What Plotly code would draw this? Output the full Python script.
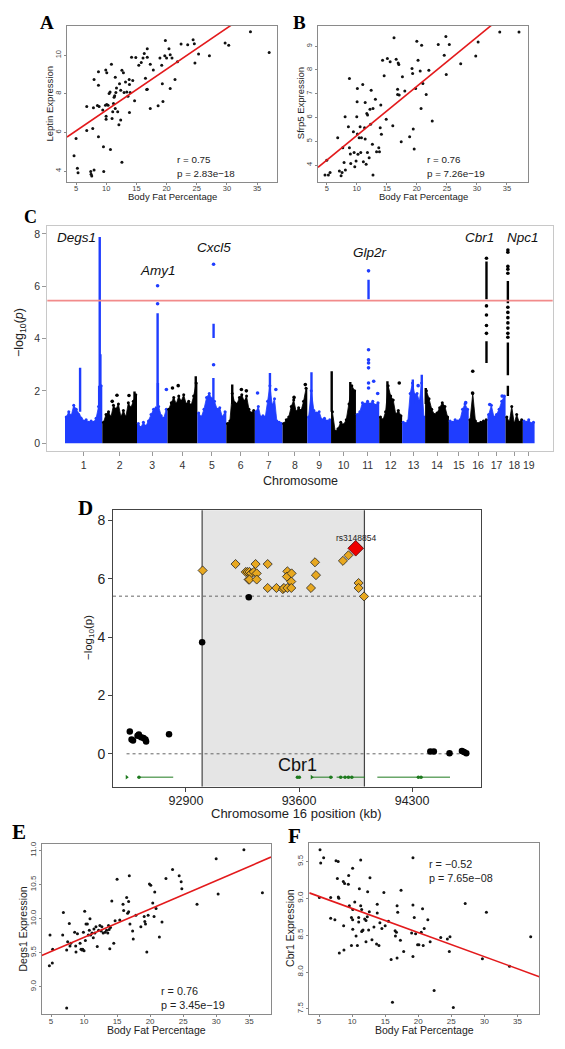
import plotly.graph_objects as go

W, H = 565, 1049
FONT = "Liberation Sans, Arial, sans-serif"
SERIF = "Liberation Serif, Times New Roman, serif"

# ---------------- Panel A / B data ----------------
bodyfat_A = [4.67, 5.0, 5.22, 5.33, 6.77, 6.77, 7.43, 7.49, 7.6, 7.77, 7.88, 7.99, 7.99, 8.54, 8.71, 8.71, 8.71, 8.82,
             9.42, 9.54, 9.59, 9.87, 9.92, 10.09, 9.98, 9.98, 10.09, 10.31, 10.48, 10.64, 10.7, 10.86, 10.97, 11.08,
             11.2, 11.3, 11.4, 11.5, 11.5, 11.6, 11.7, 11.9, 12.1, 12.2, 12.4, 12.4, 12.6, 12.6, 12.85, 12.96, 13.2,
             13.4, 13.6, 13.8, 13.85, 13.85, 13.96, 14.2, 14.4, 14.7, 14.9, 15.4, 15.8, 16.1, 16.3, 16.5, 16.7, 16.8,
             16.8, 16.8, 17.3, 17.3, 17.8, 18.6, 18.9, 19.2, 19.3, 19.4, 19.7, 19.8, 20.0, 20.4, 20.6, 20.6, 20.9,
             21.4, 21.8, 22.4, 23.5, 24.4, 24.6, 24.7, 25.3, 27.1, 29.7, 30.3, 33.9, 37.0]
leptin = [4.79, 5.69, 4.14, 3.91, 6.10, 7.34, 3.97, 3.84, 3.74, 6.21, 7.28, 8.74, 4.05, 7.40, 8.45, 9.14, 5.78, 7.34,
          7.16, 5.26, 3.97, 7.41, 9.24, 9.09, 6.84, 6.69, 7.45, 7.41, 8.02, 8.10, 5.12, 9.53, 6.72, 7.07, 7.5, 7.83,
          7.9, 8.86, 7.24, 8.07, 8.31, 7.07, 6.40, 8.52, 8.19, 6.64, 9.22, 4.45, 9.10, 8.07, 8.62, 8.10, 7.88, 8.74,
          8.48, 7.03, 8.07, 9.90, 8.69, 7.64, 9.88, 9.48, 9.62, 9.86, 10.09, 8.81, 8.22, 10.34, 9.9, 8.24, 9.53, 7.24,
          9.24, 7.38, 9.86, 9.48, 8.53, 7.60, 9.97, 10.76, 9.86, 10.34, 10.03, 8.28, 9.86, 8.74, 9.66, 10.59, 10.55,
          10.81, 10.6, 9.6, 10.07, 9.97, 10.64, 10.52, 11.22, 10.14]
fit_A = (5.02, 0.213)

bodyfat_B = [4.72, 5.0, 5.28, 5.56, 6.83, 7.11, 7.39, 7.56, 7.67, 7.89, 8.06, 8.11, 8.61, 8.78, 8.78, 8.94, 9.0, 9.44,
             9.56, 9.67, 9.89, 10.0, 10.06, 10.1, 10.1, 10.2, 10.4, 10.56, 10.67, 10.78, 11.0, 11.1, 11.3, 11.4, 11.4,
             11.56, 11.67, 11.78, 11.8, 12.06, 12.2, 12.3, 12.4, 12.6, 12.7, 12.7, 13.1, 13.3, 13.67, 13.78, 13.9,
             14.0, 14.1, 14.3, 14.56, 14.9, 15.1, 15.56, 16.0, 16.2, 16.56, 16.8, 16.8, 16.9, 17.0, 17.06, 17.4, 17.6,
             18.0, 18.8, 19.2, 19.3, 19.4, 19.56, 19.8, 20.0, 20.2, 20.56, 20.7, 20.8, 21.0, 21.56, 22.0, 22.56,
             23.56, 24.56, 24.83, 24.9, 25.4, 27.3, 29.8, 30.2, 33.8, 37.0]
sfrp5 = [3.58, 4.2, 3.58, 3.69, 5.15, 3.75, 3.55, 3.69, 4.73, 4.11, 6.03, 3.79, 5.61, 7.64, 4.73, 4.46, 4.06, 5.40,
         4.53, 3.93, 4.17, 6.03, 6.66, 5.30, 7.22, 4.45, 5.15, 5.61, 4.53, 5.15, 7.39, 4.14, 5.57, 6.63, 5.09, 4.03,
         6.17, 4.53, 6.10, 4.31, 6.35, 5.71, 7.14, 4.87, 6.38, 3.58, 6.77, 4.56, 4.73, 4.56, 5.57, 6.52, 5.29, 8.41,
         7.75, 5.93, 8.48, 8.34, 5.65, 9.35, 8.45, 6.97, 7.19, 8.29, 8.23, 6.94, 4.98, 7.71, 7.11, 5.19, 8.06, 7.85,
         5.51, 4.67, 7.22, 9.21, 8.41, 7.95, 6.38, 9.04, 7.43, 6.97, 7.99, 5.85, 9.07, 8.62, 9.41, 7.81, 9.07, 8.26,
         8.59, 9.18, 9.6, 9.6]
fit_B = (3.17, 0.207)

# ---------------- Panel E / F data ----------------
bodyfat_E = [4.85, 5.2, 5.25, 6.77, 6.87, 7.37, 7.52, 7.37, 7.77, 7.87, 8.0, 8.58, 8.73, 8.78, 9.0, 9.4, 9.54, 9.7,
             9.8, 9.9, 10.0, 10.1, 10.2, 10.3, 10.5, 10.65, 10.8, 10.9, 11.0, 11.2, 11.4, 11.5, 11.65, 11.8, 12.0,
             12.2, 12.4, 12.6, 12.7, 12.9, 13.2, 13.4, 13.6, 13.7, 13.8, 13.9, 14.0, 14.2, 14.5, 14.7, 15.0, 15.4,
             15.9, 16.0, 16.45, 16.6, 16.75, 16.75, 16.85, 16.95, 17.35, 17.45, 17.85, 18.6, 19.1, 19.2, 19.3, 19.5,
             19.7, 19.9, 20.1, 20.4, 20.6, 20.7, 20.9, 21.4, 21.8, 22.4, 23.4, 24.4, 24.7, 24.8, 27.1, 30.3, 37.0,
             4.75, 30.0, 34.2]
degs1 = [9.76, 9.35, 9.55, 9.76, 10.09, 9.54, 9.66, 8.69, 9.93, 9.60, 9.64, 9.80, 9.60, 9.51, 9.78, 9.64, 9.55, 9.54,
         9.55, 9.80, 9.53, 10.11, 9.68, 9.92, 9.92, 9.76, 9.83, 10.0, 9.76, 9.79, 9.72, 9.85, 9.79, 9.88, 9.59, 9.83,
         9.90, 9.82, 9.88, 9.79, 9.80, 9.83, 9.79, 9.90, 9.84, 9.56, 9.87, 10.26, 9.64, 9.97, 10.58, 9.98, 10.21,
         10.12, 10.31, 10.08, 10.10, 10.25, 10.63, 9.92, 9.82, 9.70, 10.05, 9.88, 10.03, 9.96, 9.92, 9.51, 10.05,
         10.51, 10.49, 10.23, 10.03, 10.39, 10.15, 9.73, 9.95, 10.59, 10.72, 10.63, 10.54, 10.44, 10.21, 10.36,
         10.38, 9.31, 10.88, 11.01]
fit_E = (9.31, 0.0416)

bodyfat_F = [5.25, 7.57, 10.08, 7.77, 8.67, 8.87, 9.48, 9.43, 12.7, 11.1, 12.35, 14.8, 17.4, 5.05, 6.76, 7.92, 8.0,
             9.58, 10.4, 10.1, 11.3, 11.45, 12.6, 13.8, 16.8, 16.9, 19.2, 20.65, 6.76, 7.4, 9.9, 10.08, 11.0, 11.0,
             11.9, 12.1, 12.3, 13.8, 14.2, 15.5, 19.4, 21.45, 8.72, 10.1, 10.6, 11.45, 11.55, 11.65, 12.5, 13.3, 14.5,
             15.0, 16.5, 16.7, 16.55, 19.0, 19.6, 20.45, 20.9, 23.4, 24.4, 24.8, 9.9, 10.8, 12.1, 13.0, 13.7, 14.06,
             17.3, 19.9, 20.1, 20.75, 21.8, 8.07, 8.77, 17.8, 19.2, 16.8, 15.9, 24.7, 29.7, 33.8, 37.0, 27.1, 30.3,
             16.1, 22.4, 25.3, 5.15, 5.7, 7.9, 11.3, 19.2]
cbr1 = [9.48, 9.51, 9.41, 9.27, 9.23, 9.20, 9.31, 9.19, 9.28, 9.13, 9.09, 9.08, 9.11, 9.01, 9.01, 9.02, 9.0, 8.90,
        8.95, 8.85, 8.90, 8.85, 8.82, 8.92, 8.90, 8.81, 8.91, 8.86, 8.73, 8.71, 8.74, 8.71, 8.74, 8.68, 8.72, 8.70,
        8.75, 8.80, 8.67, 8.69, 8.74, 8.71, 8.63, 8.58, 8.49, 8.55, 8.56, 8.57, 8.57, 8.61, 8.59, 8.63, 8.56, 8.54,
        8.49, 8.53, 8.52, 8.54, 8.59, 8.47, 8.45, 8.48, 8.36, 8.36, 8.41, 8.44, 8.38, 8.36, 8.43, 8.37, 8.37, 8.36,
        8.41, 8.26, 8.30, 8.28, 8.21, 8.19, 8.17, 8.28, 8.18, 8.08, 8.48, 8.93, 8.81, 7.59, 7.75, 7.52, 9.66, 9.55,
        9.5, 9.52, 9.55]
fit_F = (9.19, -0.0327)

# ---------------- Panel C (Manhattan) data ----------------
chrom_names = [str(i) for i in range(1, 20)]
chrom_len_mb = [195.47, 182.11, 160.04, 156.51, 151.83, 149.74, 145.44, 129.40, 124.60, 130.69,
                122.08, 120.13, 120.42, 124.90, 104.04, 98.21, 94.99, 90.70, 61.43]
# bulk (upper envelope of the dense background) per chromosome, evenly along each chromosome
bulk_logp = [
    [1.0, 1.2, 1.05, 1.45, 1.3, 1.1, 0.95, 0.85, 0.9, 0.8, 0.85, 0.8, 0.95, 1.4, 2.2],
    [0.8, 1.1, 1.2, 1.0, 1.45, 1.3, 1.5, 1.0, 1.25, 1.0, 1.55, 1.35, 1.6, 1.85],
    [0.75, 0.6, 0.8, 0.65, 0.85, 1.1, 1.3, 1.35, 1.4, 1.05, 0.95, 1.3],
    [1.3, 1.55, 1.75, 1.5, 1.8, 1.6, 1.85, 1.5, 1.6, 1.45, 1.8, 2.3],
    [1.15, 1.0, 1.3, 1.75, 1.9, 1.7, 1.6, 1.3, 1.35, 1.0, 1.2],
    [0.75, 0.85, 1.9, 1.55, 1.5, 1.75, 1.85, 1.6, 1.8, 1.3, 1.15, 1.25],
    [1.2, 1.4, 1.0, 1.05, 1.0, 1.6, 2.2, 1.45, 1.7, 0.85, 0.8, 0.75],
    [0.75, 0.9, 1.0, 1.4, 1.65, 1.2, 1.35, 1.25, 1.6, 2.1],
    [1.0, 2.0, 1.25, 1.15, 1.2, 0.9, 0.95, 0.85, 0.9],
    [1.2, 0.45, 0.55, 0.8, 0.7, 0.9, 1.5, 2.2, 2.0],
    [1.1, 1.2, 1.55, 1.5, 1.6, 1.5, 1.6, 1.45, 1.55],
    [1.0, 0.9, 1.2, 2.2, 1.8, 1.65, 1.1, 1.25, 1.05],
    [0.8, 0.75, 0.85, 1.9, 2.3, 1.85, 1.9, 1.6, 2.3, 1.0],
    [2.0, 1.7, 1.3, 1.1, 1.15, 1.35, 1.55, 1.4, 1.0],
    [0.85, 0.8, 0.9, 0.85, 0.9, 1.3, 1.5, 1.3],
    [0.9, 1.9, 0.85, 0.75, 0.8, 0.85, 0.9],
    [1.1, 1.45, 1.0, 1.1, 1.3, 1.6, 1.8],
    [1.0, 0.8, 1.4, 0.75, 1.1, 0.8, 0.9],
    [0.85, 0.8, 0.9, 0.75, 0.8],
]
# dense vertical runs of SNPs
run_chrom = [1, 1, 1, 1, 2, 3, 3, 4, 5, 5, 6, 7, 9, 10, 10, 11, 12, 13, 13, 14, 16, 16, 18, 18, 18]
run_mb = [79, 182, 185.5, 179, 169, 108, 109.5, 148, 85, 84, 31, 79, 22, 3.5, 101, 66, 43, 56, 103, 3.5, 93, 93, 12, 12, 12]
run_lo = [1.2, 1.2, 1.0, 1.0, 1.5, 1.4, 1.2, 1.6, 4.02, 1.5, 1.5, 1.6, 1.2, 1.2, 1.5, 5.5, 1.2, 1.5, 1.5, 1.5, 5.5, 3.07, 5.35, 2.6, 1.8]
run_hi = [2.88, 7.88, 3.4, 2.2, 1.98, 4.97, 2.3, 2.56, 4.57, 2.49, 2.24, 2.68, 2.71, 2.75, 2.34, 6.25, 2.37, 2.43, 2.62, 2.11, 6.95, 3.9, 6.2, 3.85, 2.2]
# isolated SNPs
snp_chrom = [3, 3, 5, 5, 11, 11, 11, 11, 11, 11, 11, 16, 16, 16, 16, 16, 16, 16,
             18, 18, 18, 18, 18, 18, 18, 18, 18, 18, 18, 18,
             2, 2, 2, 3, 4, 4, 6, 6, 7, 7, 8, 8, 11, 11, 12, 13, 15, 17, 17]
snp_mb = [108, 108, 85, 85, 66, 66, 66, 66, 66, 66, 66, 93, 93, 93, 93, 93, 21, 20,
          12, 12, 12, 12, 12, 12, 12, 12, 12, 12, 12, 12,
          52, 77, 140, 154, 26, 56, 79, 105, 14, 110, 60, 119, 93, 114, 105, 84, 88, 12, 77]
snp_logp = [6.02, 5.33, 6.84, 3.0, 6.59, 3.57, 3.19, 3.07, 2.88, 2.3, 2.11, 7.07, 5.25, 4.9, 4.5, 4.2, 2.75, 1.92,
            7.39, 7.3, 6.76, 6.65, 6.5, 5.2, 5.0, 4.8, 4.6, 4.4, 4.2, 4.05,
            1.6, 1.83, 1.82, 2.05, 2.11, 2.2, 2.05, 2.0, 1.92, 2.05, 1.75, 2.24, 2.37, 1.9, 2.3, 2.2, 1.55, 1.48, 1.8]
gene_names = ["Degs1", "Amy1", "Cxcl5", "Glp2r", "Cbr1", "Npc1"]
gene_chrom = [1, 3, 5, 11, 16, 18]
gene_mb = [182, 108, 85, 66, 93, 12]
gene_label_y = [7.87, 6.61, 7.5, 7.3, 7.85, 7.87]
gene_label_shift = [-23, 0, 0, 1, -7, 15]
threshold = 5.45

# ---------------- Panel D data ----------------
blk_kb = [92552, 92563, 92572, 92600, 92608, 92622, 92637, 92649, 92653, 92795, 93000, 93289,
          94413, 94435, 94532, 94609, 94622, 94636]
blk_logp = [0.76, 0.49, 0.46, 0.62, 0.66, 0.57, 0.54, 0.49, 0.42, 0.67, 3.82, 5.36,
            0.08, 0.08, 0.02, 0.10, 0.06, 0.02]
ld_kb = [93003, 93207, 93270, 93281, 93293, 93304, 93288, 93293, 93320, 93331, 93338, 93338, 93406, 93406,
         93460, 93500, 93507, 93528, 93525, 93554, 93552, 93528, 93552, 93674, 93699, 93705, 93872, 93906,
         93969, 93969, 94003]
ld_logp = [6.28, 6.50, 6.23, 6.23, 6.23, 6.18, 5.97, 5.97, 6.23, 6.50, 6.18, 5.97, 6.50, 5.68, 5.68, 5.64,
           5.68, 6.25, 6.07, 6.18, 5.90, 5.68, 5.68, 5.68, 6.56, 6.12, 6.61, 6.80, 5.85, 5.68, 5.39]
lead_snp = "rs3148854"
lead_kb, lead_logp = 93951, 7.04
block_kb = (93000, 94005)
d_threshold = 5.4
gene_seg_start = [92601, 93686, 93833, 94085]
gene_seg_end = [92821, 93809, 94009, 94535]
exon_kb = [92609, 93590, 93602, 93797, 93858, 93885, 93906, 93927, 94339, 94356]
tss_kb = [92533, 93679]
gene_track_y = -0.8

# ---------------- helpers ----------------
def px(x):
    return x / W

def py(y):
    return 1 - y / H

annotations = []

def ann(text, x, y, size, angle=0, xanchor="center", family=FONT, color="#222", bold=False):
    annotations.append(dict(text=f"<b>{text}</b>" if bold else text, x=px(x), y=py(y),
                            xref="paper", yref="paper", showarrow=False, textangle=angle,
                            xanchor=xanchor, yanchor="middle",
                            font=dict(size=size, family=family, color=color)))

fig = go.Figure()

def scatter_panel(i, xs, ys, fit, xr):
    ax = "" if i == 1 else str(i)
    fig.add_trace(go.Scatter(x=xs, y=ys, mode="markers", xaxis="x" + ax, yaxis="y" + ax,
                             marker=dict(size=3, color="#111"), showlegend=False, hoverinfo="skip"))
    a, b = fit
    fig.add_trace(go.Scatter(x=[xr[0], xr[1]], y=[a + b * xr[0], a + b * xr[1]], mode="lines",
                             xaxis="x" + ax, yaxis="y" + ax, line=dict(color="#e31a1c", width=1.6),
                             showlegend=False, hoverinfo="skip"))

scatter_panel(1, bodyfat_A, leptin, fit_A, (3.5, 38.3))
scatter_panel(2, bodyfat_B, sfrp5, fit_B, (3.55, 38.5))
scatter_panel(5, bodyfat_E, degs1, fit_E, (3.59, 38.3))
scatter_panel(6, bodyfat_F, cbr1, fit_F, (3.53, 38.3))

# ---------------- Manhattan ----------------
BLUE = "#1f3dff"
BLACK = "#000000"
chrom_start = []
acc = 0.0
for L in chrom_len_mb:
    chrom_start.append(acc)
    acc += L
genome_len = acc
for ci, (L, h) in enumerate(zip(chrom_len_mb, bulk_logp)):
    s = chrom_start[ci]
    n = len(h)
    mids = [s + L * (k + 0.5) / n for k in range(n)]
    xs = [s] + mids + [s + L]
    ys = [h[0]] + list(h) + [h[-1]]
    col = BLUE if ci % 2 == 0 else BLACK
    fig.add_trace(go.Scatter(x=xs, y=ys, mode="lines", fill="tozeroy", fillcolor=col,
                             line=dict(color=col, width=0.8), xaxis="x3", yaxis="y3",
                             showlegend=False, hoverinfo="skip"))
    fig.add_trace(go.Scatter(x=mids, y=h, mode="markers", marker=dict(size=3, color=col),
                             xaxis="x3", yaxis="y3", showlegend=False, hoverinfo="skip"))
for parity, col in ((1, BLUE), (0, BLACK)):
    rx, ry = [], []
    for c, m, lo, hi in zip(run_chrom, run_mb, run_lo, run_hi):
        if c % 2 == parity:
            x = chrom_start[c - 1] + m
            rx += [x, x, None]
            ry += [lo, hi, None]
    fig.add_trace(go.Scatter(x=rx, y=ry, mode="lines", line=dict(color=col, width=2.4),
                             xaxis="x3", yaxis="y3", showlegend=False, hoverinfo="skip"))
    dx = [chrom_start[c - 1] + m for c, m in zip(snp_chrom, snp_mb) if c % 2 == parity]
    dy = [v for c, v in zip(snp_chrom, snp_logp) if c % 2 == parity]
    fig.add_trace(go.Scatter(x=dx, y=dy, mode="markers", marker=dict(size=3.6, color=col),
                             xaxis="x3", yaxis="y3", showlegend=False, hoverinfo="skip"))
for name, c, m, yv, sh in zip(gene_names, gene_chrom, gene_mb, gene_label_y, gene_label_shift):
    annotations.append(dict(text=f"<i>{name}</i>", x=chrom_start[c - 1] + m, y=yv, xref="x3", yref="y3",
                            xshift=sh, showarrow=False, font=dict(size=13.5, family=FONT, color="#111")))
chrom_ticks = [chrom_start[i] + chrom_len_mb[i] / 2 for i in range(19)]

# ---------------- Regional plot D ----------------
fig.add_trace(go.Scatter(x=blk_kb, y=blk_logp, mode="markers", marker=dict(size=6.5, color="#000"),
                         xaxis="x4", yaxis="y4", showlegend=False, hoverinfo="skip"))
fig.add_trace(go.Scatter(x=ld_kb, y=ld_logp, mode="markers",
                         marker=dict(size=7, symbol="diamond", color="#e8a820", line=dict(color="#222", width=0.8)),
                         xaxis="x4", yaxis="y4", showlegend=False, hoverinfo="skip"))
fig.add_trace(go.Scatter(x=[lead_kb], y=[lead_logp], mode="markers",
                         marker=dict(size=12, symbol="diamond", color="#ee0000", line=dict(color="#400", width=0.8)),
                         xaxis="x4", yaxis="y4", showlegend=False, hoverinfo="skip"))
gx, gy = [], []
for s, e in zip(gene_seg_start, gene_seg_end):
    gx += [s, e, None]
    gy += [gene_track_y, gene_track_y, None]
GREEN = "#1e7a1e"
fig.add_trace(go.Scatter(x=gx, y=gy, mode="lines", line=dict(color=GREEN, width=1),
                         xaxis="x4", yaxis="y4", showlegend=False, hoverinfo="skip"))
fig.add_trace(go.Scatter(x=exon_kb, y=[gene_track_y] * len(exon_kb), mode="markers",
                         marker=dict(size=3.5, color=GREEN), xaxis="x4", yaxis="y4",
                         showlegend=False, hoverinfo="skip"))
fig.add_trace(go.Scatter(x=tss_kb, y=[gene_track_y] * len(tss_kb), mode="markers",
                         marker=dict(size=4, color=GREEN, symbol="triangle-right"), xaxis="x4", yaxis="y4",
                         showlegend=False, hoverinfo="skip"))
annotations.append(dict(text=lead_snp, x=lead_kb, y=lead_logp + 0.36, xref="x4", yref="y4", showarrow=False,
                        font=dict(size=8.5, family=FONT, color="#222")))
annotations.append(dict(text="Cbr1", x=93590, y=-0.38, xref="x4", yref="y4", showarrow=False,
                        font=dict(size=18, family=FONT, color="#111")))

shapes = [
    dict(type="rect", xref="x4", yref="y4 domain", x0=block_kb[0], x1=block_kb[1], y0=0, y1=1,
         fillcolor="#e5e5e5", line=dict(width=0), layer="below"),
    dict(type="line", xref="x4", yref="y4 domain", x0=block_kb[0], x1=block_kb[0], y0=0, y1=1,
         line=dict(color="#444", width=1.2), layer="below"),
    dict(type="line", xref="x4", yref="y4 domain", x0=block_kb[1], x1=block_kb[1], y0=0, y1=1,
         line=dict(color="#444", width=1.2), layer="below"),
    dict(type="line", xref="x4 domain", yref="y4", x0=0, x1=1, y0=d_threshold, y1=d_threshold,
         line=dict(color="#666", width=1, dash="dot"), layer="below"),
    dict(type="line", xref="x4", yref="y4", x0=92532, x1=94653, y0=0, y1=0,
         line=dict(color="#666", width=1, dash="dot"), layer="below"),
    dict(type="line", xref="x3 domain", yref="y3", x0=0, x1=1, y0=threshold, y1=threshold,
         line=dict(color="#f28b8b", width=1.6)),
]

# ---------------- axes ----------------
def dom(a, b, size):
    return [a / size, b / size]

def ydom(top, bottom):
    return [1 - bottom / H, 1 - top / H]

def sc_x(domain, rng, anchor, fs):
    return dict(domain=domain, range=rng, anchor=anchor, tickvals=[5, 10, 15, 20, 25, 30, 35],
                ticks="outside", ticklen=2, tickcolor="#888", showline=True, mirror=True,
                linecolor="#8a8a8a", linewidth=1, showgrid=False, zeroline=False, ticklabelstandoff=-3,
                tickfont=dict(size=fs, color="#444", family=FONT))

def sc_y(domain, rng, anchor, vals, text, fs):
    return dict(domain=domain, range=rng, anchor=anchor, tickvals=vals, ticktext=text, tickangle=-90,
                ticks="outside", ticklen=2, tickcolor="#888", showline=True, mirror=True,
                linecolor="#8a8a8a", linewidth=1, showgrid=False, zeroline=False,
                tickfont=dict(size=fs, color="#444", family=FONT))

layout = dict(
    width=W, height=H, margin=dict(l=0, r=0, t=0, b=0), autosize=False,
    paper_bgcolor="white", plot_bgcolor="white", showlegend=False,
    font=dict(family=FONT),
    xaxis=sc_x(dom(67, 277, W), [3.5, 38.3], "y", 7.5),
    yaxis=sc_y(ydom(24, 180), [3.45, 11.52], "x", [4, 6, 8, 10], ["4", "6", "8", "10"], 7.5),
    xaxis2=sc_x(dom(318, 528, W), [3.55, 38.5], "y2", 7.5),
    yaxis2=sc_y(ydom(24, 180), [3.3, 9.85], "x2", [4, 5, 6, 7, 8, 9], ["4", "5", "6", "7", "8", "9"], 7.5),
    xaxis3=dict(domain=dom(47.3, 552.7, W), range=[-93, genome_len + 95], anchor="y3",
                tickvals=chrom_ticks, ticktext=chrom_names, ticks="outside", ticklen=4, tickcolor="#999",
                showline=True, mirror=True, linecolor="#c8c8c8", linewidth=1, showgrid=False, zeroline=False,
                tickfont=dict(size=10.5, color="#333", family=FONT)),
    yaxis3=dict(domain=ydom(224.3, 450), range=[-0.305, 8.31], anchor="x3", tickvals=[0, 2, 4, 6, 8],
                ticks="outside", ticklen=4, tickcolor="#999", showline=True, mirror=True,
                linecolor="#c8c8c8", linewidth=1, showgrid=False, zeroline=False,
                tickfont=dict(size=10.5, color="#333", family=FONT)),
    xaxis4=dict(domain=dom(113, 481, W), range=[92448, 94727], anchor="y4",
                tickvals=[92900, 93600, 94300], ticktext=["92900", "93600", "94300"], ticks="outside",
                ticklen=4, tickcolor="#444", showline=True, mirror=True, linecolor="#444", linewidth=1,
                showgrid=False, zeroline=False, ticklabelstandoff=-2,
                tickfont=dict(size=12.5, color="#222", family=FONT)),
    yaxis4=dict(domain=ydom(509.3, 786), range=[-1.12, 8.34], anchor="x4", tickvals=[0, 2, 4, 6, 8],
                ticks="outside", ticklen=4, tickcolor="#444", showline=True, mirror=True, linecolor="#444",
                linewidth=1, showgrid=False, zeroline=False, tickfont=dict(size=14, color="#222", family=FONT)),
    xaxis5=sc_x(dom(41.7, 271, W), [3.59, 38.3], "y5", 8),
    yaxis5=sc_y(ydom(843.3, 1014), [8.6, 11.1], "x5", [9.0, 9.5, 10.0, 10.5, 11.0],
                ["9.0", "9.5", "10.0", "10.5", "11.0"], 8),
    xaxis6=sc_x(dom(309.3, 539.3, W), [3.53, 38.3], "y6", 8),
    yaxis6=sc_y(ydom(842.7, 1014), [7.43, 9.75], "x6", [7.5, 8.0, 8.5, 9.0, 9.5],
                ["7.5", "8.0", "8.5", "9.0", "9.5"], 8),
    shapes=shapes,
)

# panel letters
ann("A", 47, 20.5, 19, family=SERIF, color="#000", bold=True)
ann("B", 299, 20.5, 19, family=SERIF, color="#000", bold=True)
ann("C", 30, 215.5, 18, family=SERIF, color="#000", bold=True)
ann("D", 85.5, 506.5, 21, family=SERIF, color="#000", bold=True)
ann("E", 19, 831.7, 21, family=SERIF, color="#000", bold=True)
ann("F", 294, 836, 21, family=SERIF, color="#000", bold=True)

# axis titles
ann("Body Fat Percentage", 172, 194.5, 9.5)
ann("Leptin Expression", 50, 101.7, 9.5, angle=-90)
ann("Body Fat Percentage", 423, 194.5, 9.5)
ann("Sfrp5 Expression", 300.7, 101.7, 9.5, angle=-90)
ann("Chromosome", 300, 480, 12.5)
ann("\u2212log<sub>10</sub>(<i>p</i>)", 20, 331.7, 12.5, angle=-90)
ann("\u2212log<sub>10</sub>(p)", 89, 637.3, 11.5, angle=-90)
ann("Chromosome 16 position (kb)", 296, 813, 13)
ann("Body Fat Percentage", 156, 1030, 10.5)
ann("Degs1 Expression", 23.3, 929, 10.5, angle=-90)
ann("Body Fat Percentage", 424.5, 1030, 10.5)
ann("Cbr1 Expression", 290.7, 928, 10.5, angle=-90)

# statistics
stats = [("r = 0.75", "p = 2.83e\u221218", 175, 158.3, 171.7, 9.8),
         ("r = 0.76", "p = 7.26e\u221219", 425, 158.3, 171.7, 9.8),
         ("r = 0.76", "p = 3.45e\u221219", 159.3, 991, 1005, 10.8),
         ("r = \u22120.52", "p = 7.65e\u221208", 426.7, 864, 877.3, 10.8)]
for r_txt, p_txt, x0, y1, y2, fs in stats:
    ann(r_txt, x0, y1, fs, xanchor="left")
    ann(p_txt, x0, y2, fs, xanchor="left")

layout["annotations"] = annotations
fig.update_layout(**layout)
fig.write_html("out.html", config={"displayModeBar": False},
               post_script="document.body.style.margin='0px';document.body.style.padding='0px';")
